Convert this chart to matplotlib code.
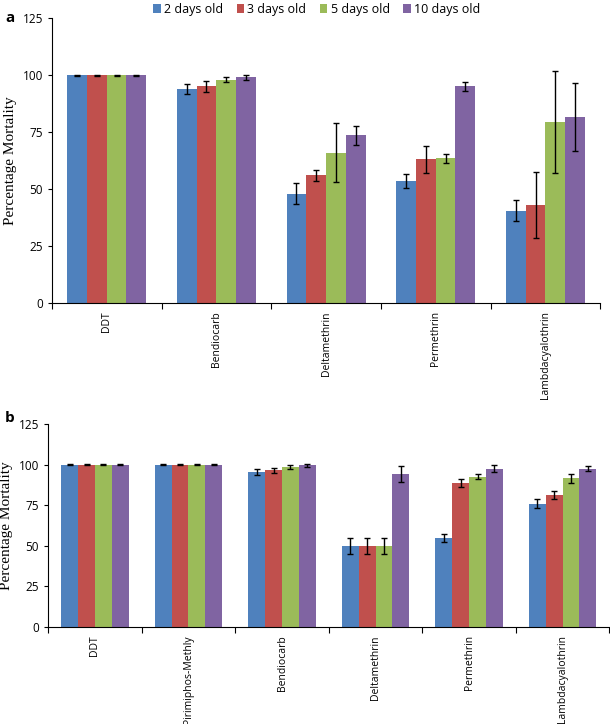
import numpy as np
import matplotlib.pyplot as plt

ages = ["2 days old", "3 days old", "5 days old", "10 days old"]
clrs = ["#4F81BD", "#C0504D", "#9BBB59", "#8064A2"]

# panel a
ins_a = ["DDT", "Bendiocarb", "Deltamethrin", "Permethrin", "Lambdacyalothrin"]
mort_a = [
    [100, 94.0, 48.0, 53.5, 40.5],
    [100, 95.0, 56.0, 63.0, 43.0],
    [100, 98.0, 66.0, 63.5, 79.5],
    [100, 99.0, 73.5, 95.0, 81.5],
]
err_a = [
    [0.2, 2.3, 4.5, 3.0, 4.5],
    [0.2, 2.5, 2.5, 6.0, 14.5],
    [0.2, 1.0, 13.0, 2.0, 22.5],
    [0.2, 1.0, 4.0, 2.0, 15.0],
]

# panel b
ins_b = ["DDT", "Pirimiphos-Methly", "Bendiocarb", "Deltamethrin", "Permethrin", "Lambdacyalothrin"]
mort_b = [
    [100, 100, 95.5, 50.0, 55.0, 76.0],
    [100, 100, 96.5, 50.0, 88.5, 81.0],
    [100, 100, 98.5, 50.0, 92.5, 91.5],
    [100, 100, 99.5, 94.0, 97.5, 97.5],
]
err_b = [
    [0.2, 0.2, 2.0, 5.0, 2.5, 2.5],
    [0.2, 0.2, 1.5, 5.0, 2.5, 2.5],
    [0.2, 0.2, 1.2, 5.0, 1.5, 3.0],
    [0.2, 0.2, 0.8, 5.0, 2.0, 1.5],
]

plt.rcParams['font.family'] = ['Open Sans', 'DejaVu Sans']

fig = plt.figure(figsize=(6.1, 7.24), dpi=100)


def draw(ax, names, vals, errs, bw):
    n = len(names)
    x = np.arange(n)
    for k in range(4):
        ax.bar(x + (k - 1.5) * bw, vals[k], bw, color=clrs[k], label=ages[k],
               yerr=errs[k], capsize=2, error_kw=dict(elinewidth=1, capthick=1, ecolor="black"))
    ax.set_xlim(-0.5, n - 0.5)
    ax.set_ylim(0, 125)
    ax.set_yticks([0, 25, 50, 75, 100, 125])
    ax.set_xticks(np.arange(n + 1) - 0.5, minor=False)
    ax.set_xticklabels([])
    ax.set_xticks(x, minor=True)
    ax.set_xticklabels(names, minor=True, rotation=90, fontsize=7.5)
    ax.tick_params(axis='x', which='minor', length=0, pad=6)
    ax.tick_params(axis='x', which='major', length=4, direction='out')
    ax.tick_params(axis='y', labelsize=8.5, length=3)
    for s in ["top", "right"]:
        ax.spines[s].set_visible(False)
    ax.set_ylabel("Percentage Mortality", family="Liberation Serif", fontsize=11, labelpad=4)


ax1 = fig.add_axes([0.085, 0.5815, 0.899, 0.3935])
draw(ax1, ins_a, mort_a, err_a, 0.18)
ax1.legend(loc="lower center", bbox_to_anchor=(0.483, 0.99), ncol=4, frameon=False,
           fontsize=9, handlelength=0.6, handletextpad=0.25, columnspacing=1.1, borderaxespad=0)
fig.text(0.008, 0.975, "a", fontsize=11, fontweight="bold", va="center")

ax2 = fig.add_axes([0.079, 0.134, 0.92, 0.2804])
draw(ax2, ins_b, mort_b, err_b, 0.18)
fig.text(0.008, 0.423, "b", fontsize=11, fontweight="bold", va="center")

plt.savefig("out.png")
